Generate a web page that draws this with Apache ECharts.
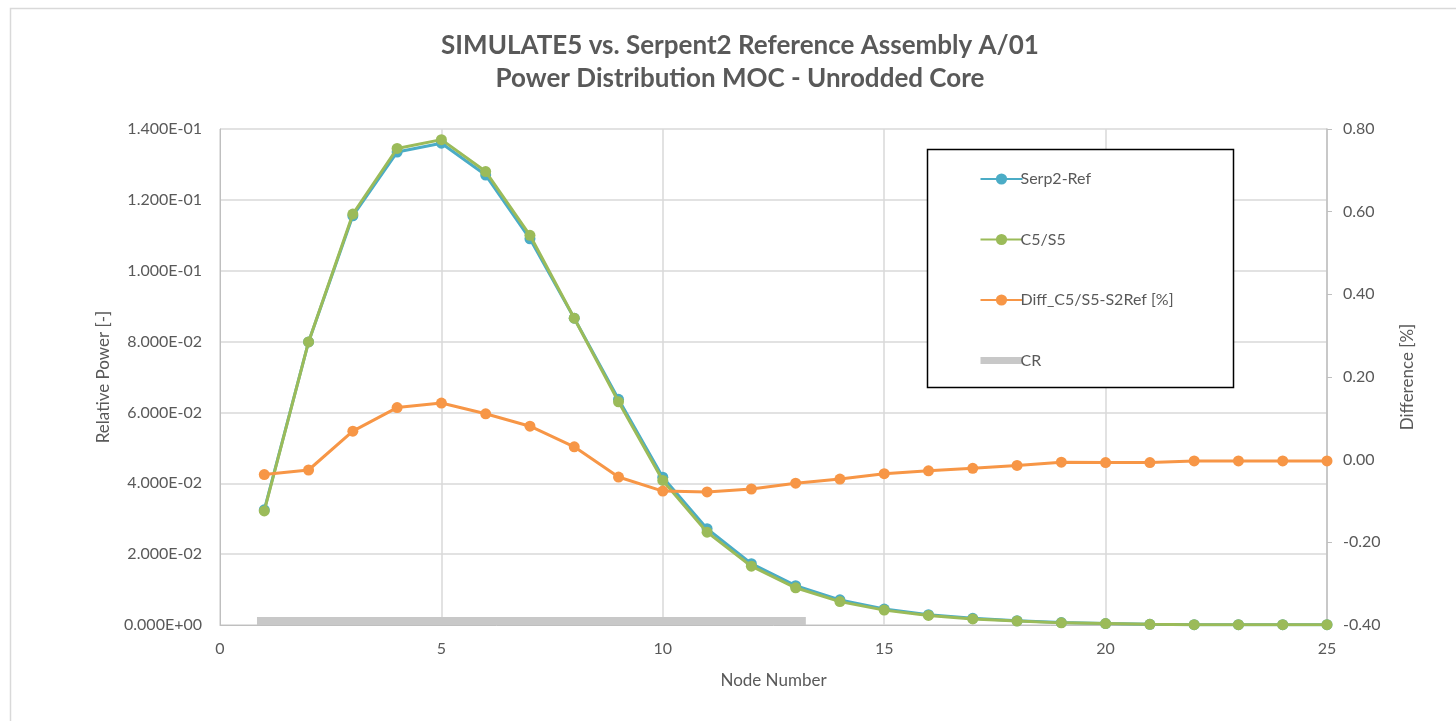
<!DOCTYPE html>
<html>
<head>
<meta charset="utf-8">
<script src="https://cdn.jsdelivr.net/npm/echarts@6/dist/echarts.min.js"></script>
<style>
  html, body { margin: 0; padding: 0; background: #fff; }
  #main { width: 1456px; height: 721px; }
</style>
</head>
<body>
<div id="main"></div>
<script>
var chartDom = document.getElementById('main');
var myChart = echarts.init(chartDom);
var option;

// node numbers 1..25
var nodes = [1, 2, 3, 4, 5, 6, 7, 8, 9, 10, 11, 12, 13, 14, 15, 16, 17, 18, 19, 20, 21, 22, 23, 24, 25];

var serp2Ref = [0.0325, 0.0799, 0.1155, 0.1335, 0.1360, 0.1270, 0.1090, 0.0866, 0.0637, 0.0417,
                0.0272, 0.0173, 0.0111, 0.0071, 0.0045, 0.0029, 0.0019, 0.0012, 0.0007, 0.0004,
                0.0002, 0.0001, 0.0001, 0.0001, 0.0001];

var c5s5 = [0.0322, 0.0799, 0.1160, 0.1345, 0.1370, 0.1280, 0.1100, 0.0866, 0.0630, 0.0408,
            0.0262, 0.0166, 0.0105, 0.0066, 0.0042, 0.0027, 0.0017, 0.0011, 0.0006, 0.0004,
            0.0002, 0.0001, 0.0001, 0.0001, 0.0001];

var diff = [-0.036, -0.025, 0.069, 0.126, 0.137, 0.111, 0.081, 0.031, -0.042, -0.076,
            -0.078, -0.071, -0.057, -0.047, -0.034, -0.027, -0.021, -0.014, -0.006, -0.007,
            -0.007, -0.003, -0.003, -0.003, -0.003];

// control rod band (node range)
var crX = [0.835, 13.23];
var crY = [0.0011, 0.0011];

function pairs(xs, ys) {
    return xs.map(function (x, i) { return [x, ys[i]]; });
}

function sciLabel(v) {
    var s = v.toExponential(3).toUpperCase();
    var parts = s.split('E');
    var exp = parseInt(parts[1], 10);
    var sign = exp < 0 ? '-' : '+';
    var e = Math.abs(exp);
    return parts[0] + 'E' + sign + (e < 10 ? '0' + e : e);
}

var font = 'Lato';
var txt = '#595959';

option = {
    backgroundColor: '#fff',
    textStyle: { fontFamily: font },
    title: {
        text: 'SIMULATE5 vs. Serpent2 Reference Assembly A/01\nPower Distribution MOC - Unrodded Core',
        left: 735,
        textAlign: 'center',
        top: 24,
        textStyle: { fontFamily: font, fontSize: 26, fontWeight: 'bold', color: txt, lineHeight: 33 }
    },
    graphic: [{
        type: 'rect',
        shape: { x: 10.5, y: 8.5, width: 1460, height: 730 },
        style: { fill: 'none', stroke: '#d9d9d9', lineWidth: 1.5 },
        silent: true,
        z: -1
    }, {
        type: 'rect',
        shape: { x: 927.5, y: 149.5, width: 306, height: 238 },
        style: { fill: '#fff', stroke: '#000', lineWidth: 1.5 },
        z: 5
    }],
    legend: {
        orient: 'vertical',
        left: 972,
        top: 166,
        itemGap: 44.5,
        itemWidth: 42,
        itemHeight: 14,
        z: 10,
        textStyle: { fontFamily: font, fontSize: 16, color: txt, padding: [0, 0, 0, -7] },
        data: ['Serp2-Ref', 'C5/S5', 'Diff_C5/S5-S2Ref [%]', {
            name: 'CR',
            itemStyle: { opacity: 0 },
            lineStyle: { width: 7, color: '#c8c8c8' }
        }]
    },
    grid: { left: 220, right: 129, top: 129, bottom: 96 },
    xAxis: {
        type: 'value',
        min: 0,
        max: 25,
        interval: 5,
        name: 'Node Number',
        nameLocation: 'middle',
        nameGap: 47,
        nameTextStyle: { fontFamily: font, fontSize: 17, color: txt },
        axisLine: { lineStyle: { color: '#bfbfbf', width: 1 } },
        axisTick: { show: false },
        axisLabel: { fontFamily: font, fontSize: 16, color: txt, margin: 16 },
        splitLine: { lineStyle: { color: '#d9d9d9', width: 1.5 } }
    },
    yAxis: [{
        type: 'value',
        min: 0,
        max: 0.14,
        interval: 0.02,
        name: 'Relative Power [-]',
        nameLocation: 'middle',
        nameGap: 108,
        nameTextStyle: { fontFamily: font, fontSize: 17, color: txt },
        axisLine: { show: true, lineStyle: { color: '#bfbfbf' } },
        axisTick: { show: false },
        axisLabel: { fontFamily: font, fontSize: 16, color: txt, margin: 18, formatter: sciLabel },
        splitLine: { lineStyle: { color: '#d9d9d9', width: 1.5 } }
    }, {
        type: 'value',
        min: -0.4,
        max: 0.8,
        interval: 0.2,
        position: 'right',
        name: 'Difference [%]',
        nameLocation: 'middle',
        nameGap: 72,
        nameRotate: 90,
        nameTextStyle: { fontFamily: font, fontSize: 17, color: txt },
        axisLine: { show: true, lineStyle: { color: '#bfbfbf', width: 1.5 } },
        axisTick: { show: true, length: 5, lineStyle: { color: '#bfbfbf' } },
        axisLabel: { fontFamily: font, fontSize: 16, color: txt, margin: 16,
            formatter: function (v) { return v.toFixed(2); } },
        splitLine: { show: false }
    }],
    series: [{
        name: 'CR',
        type: 'line',
        data: pairs(crX, crY),
        symbol: 'none',
        color: '#c8c8c8',
        lineStyle: { color: '#c8c8c8', width: 8 },
        z: 1
    }, {
        name: 'Serp2-Ref',
        type: 'line',
        data: pairs(nodes, serp2Ref),
        symbol: 'circle',
        symbolSize: 11,
        color: '#4bacc6',
        lineStyle: { color: '#4bacc6', width: 3 },
        z: 2
    }, {
        name: 'C5/S5',
        type: 'line',
        data: pairs(nodes, c5s5),
        symbol: 'circle',
        symbolSize: 11,
        color: '#9bbb59',
        lineStyle: { color: '#9bbb59', width: 3 },
        z: 3
    }, {
        name: 'Diff_C5/S5-S2Ref [%]',
        type: 'line',
        yAxisIndex: 1,
        data: pairs(nodes, diff),
        symbol: 'circle',
        symbolSize: 11,
        color: '#f79646',
        lineStyle: { color: '#f79646', width: 3 },
        z: 4
    }]
};

option && myChart.setOption(option);
</script>
</body>
</html>
